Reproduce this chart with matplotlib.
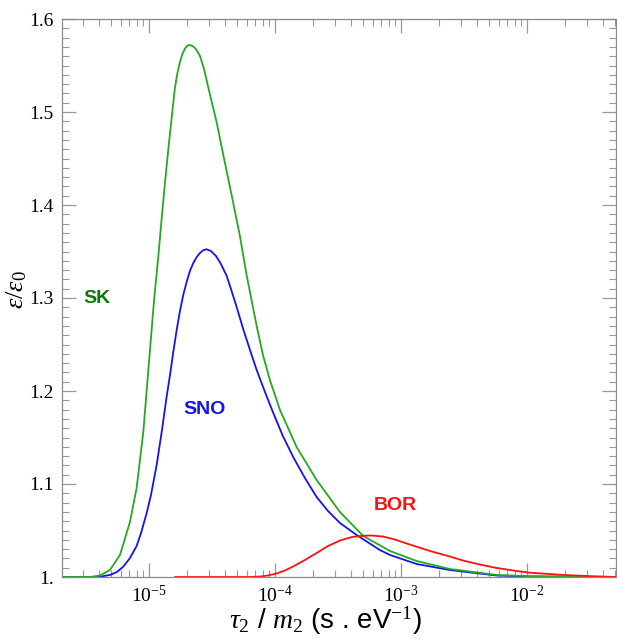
import matplotlib
matplotlib.use("Agg")
import matplotlib.pyplot as plt
from matplotlib.ticker import LogLocator, MultipleLocator, NullFormatter
import numpy as np

plt.rcParams['mathtext.fontset'] = 'custom'
plt.rcParams['mathtext.rm'] = 'Liberation Serif'
plt.rcParams['mathtext.it'] = 'Liberation Serif:italic'
plt.rcParams['mathtext.sf'] = 'Liberation Sans'

# values: x given as log10(tau2/m2), y as eps/eps0
sk_logx = [-5.690, -5.468, -5.389, -5.310, -5.230, -5.151, -5.098, -5.045, -4.992,
           -4.966, -4.952, -4.926, -4.899, -4.873, -4.847, -4.820, -4.794, -4.774,
           -4.754, -4.734, -4.714, -4.694, -4.675, -4.655, -4.635, -4.615, -4.595,
           -4.563, -4.532, -4.463, -4.410, -4.344, -4.278,
           -4.225, -4.145, -4.095, -4.040, -3.960, -3.828, -3.669, -3.484, -3.299,
           -3.087, -2.875, -2.611, -2.240, -1.976, -1.286]
sk_eps = [1.000, 1.000, 1.0016, 1.0075, 1.0237, 1.0591, 1.0957, 1.1559, 1.2441,
          1.2871, 1.3086, 1.3444, 1.3860, 1.4237, 1.4591, 1.4935, 1.5258, 1.5419,
          1.5538, 1.5624, 1.5683, 1.5715, 1.5720, 1.5710, 1.5688, 1.5651, 1.5602,
          1.5462, 1.5280, 1.4892, 1.4538, 1.4108, 1.3667,
          1.3247, 1.2699, 1.2387, 1.2118, 1.1796, 1.1398, 1.1043, 1.0699, 1.0441,
          1.0280, 1.0172, 1.0086, 1.0022, 1.0008, 1.000]

sno_logx = [-5.690, -5.429, -5.389, -5.310, -5.254, -5.204, -5.151, -5.098, -5.063,
            -5.018, -4.984, -4.939, -4.899, -4.860, -4.833, -4.807, -4.780, -4.754,
            -4.728, -4.701, -4.675, -4.648, -4.621, -4.595, -4.569, -4.542, -4.508,
            -4.468, -4.429, -4.383, -4.349, -4.304, -4.252, -4.198, -4.145, -4.079,
            -4.013, -3.937, -3.855, -3.762, -3.669, -3.579, -3.484, -3.352, -3.167,
            -3.087, -2.875, -2.611, -2.240, -1.976, -1.286]
sno_eps = [1.000, 1.000, 1.0003, 1.0022, 1.0054, 1.0111, 1.0204, 1.0333, 1.0473,
           1.0688, 1.0882, 1.1204, 1.1559, 1.1935, 1.2172, 1.2419, 1.2656, 1.2860,
           1.3032, 1.3172, 1.3290, 1.3376, 1.3441, 1.3484, 1.3513, 1.3524, 1.3505,
           1.3452, 1.3366, 1.3237, 1.3097, 1.2903, 1.2667, 1.2441, 1.2226, 1.1989,
           1.1763, 1.1516, 1.1290, 1.1065, 1.0860, 1.0710, 1.0581, 1.0452, 1.0290,
           1.0237, 1.0140, 1.0075, 1.0016, 1.0005, 1.000]

bor_logx = [-4.794, -4.198, -4.119, -4.056, -3.987, -3.921, -3.855, -3.762, -3.669,
            -3.579, -3.484, -3.389, -3.299, -3.230, -3.140, -3.048, -2.929, -2.770,
            -2.611, -2.506, -2.373, -2.240, -2.095, -1.976, -1.711, -1.500, -1.286]
bor_eps = [1.000, 1.000, 1.0005, 1.0016, 1.0038, 1.0070, 1.0113, 1.0183, 1.0258,
           1.0333, 1.0392, 1.0430, 1.0444, 1.0446, 1.0435, 1.0403, 1.0349, 1.0280,
           1.0220, 1.0177, 1.0134, 1.0097, 1.0067, 1.0046, 1.0022, 1.0009, 1.000]

y_ticks = [1.0, 1.1, 1.2, 1.3, 1.4, 1.5, 1.6]
y_labels = ["1.", "1.1", "1.2", "1.3", "1.4", "1.5", "1.6"]
x_ticks = [1e-5, 1e-4, 1e-3, 1e-2]
x_labels = [r"$10^{-5}$", r"$10^{-4}$", r"$10^{-3}$", r"$10^{-2}$"]

fig = plt.figure(figsize=(6.17, 6.39), dpi=100)
ax = fig.add_axes([62 / 617, 62 / 639, 554 / 617, 558 / 639])

line_kw = dict(lw=1.3, solid_joinstyle='round', solid_capstyle='round')
ax.plot(10 ** np.array(sno_logx), sno_eps, color='#1414f0', **line_kw)
ax.plot(10 ** np.array(sk_logx), sk_eps, color='#22aa22', **line_kw)
ax.plot(10 ** np.array(bor_logx), bor_eps, color='#ff1010', **line_kw)

ax.set_xscale('log')
ax.set_xlim(2.04e-6, 0.051)
ax.set_ylim(1.0, 1.6)

ax.set_xticks(x_ticks)
ax.set_xticklabels(x_labels, fontsize=14)
ax.xaxis.set_minor_locator(LogLocator(base=10, subs=np.arange(2, 10), numticks=20))
ax.xaxis.set_minor_formatter(NullFormatter())
ax.set_yticks(y_ticks)
ax.set_yticklabels(y_labels, fontsize=14, fontfamily='Liberation Serif')
ax.yaxis.set_minor_locator(MultipleLocator(0.01))

for s in ax.spines.values():
    s.set_color('#888888')
    s.set_linewidth(0.9)
ax.tick_params(which='both', direction='in', top=True, right=True, color='#999999')
ax.tick_params(which='major', length=10, width=0.9, pad=6)
ax.tick_params(which='minor', length=5, width=0.8)

fig.text(97 / 617, 1 - 298 / 639, 'SK', color='#0b780b', fontsize=14, fontweight='bold',
         fontfamily='Liberation Sans', ha='center', va='center')
fig.text(205 / 617, 1 - 409 / 639, 'SNO', color='#1414f0', fontsize=14, fontweight='bold',
         fontfamily='Liberation Sans', ha='center', va='center')
fig.text(395 / 617, 1 - 505 / 639, 'BOR', color='#ff1010', fontsize=14, fontweight='bold',
         fontfamily='Liberation Sans', ha='center', va='center')

fig.text(325 / 617, 1 - 621 / 639, r'$\tau_2$ / $m_2$ (s . eV$^{-1}$)', fontsize=20,
         fontfamily='Liberation Sans', ha='center', va='center')
fig.text(16 / 617, 1 - 290 / 639, r'$\epsilon/\epsilon_0$', fontsize=19, rotation=90,
         ha='center', va='center')

fig.savefig('out.png', dpi=100)
